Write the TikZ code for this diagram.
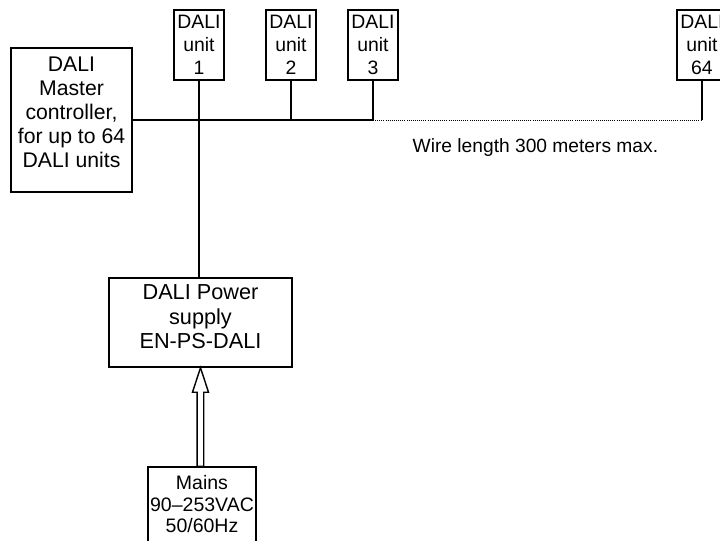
\documentclass[tikz,border=0pt]{standalone}
\usepackage{fontspec}
\setmainfont{Liberation Sans}
\usetikzlibrary{calc}

\begin{document}
\begin{tikzpicture}[
    x=0.5pt, y=-0.5pt,
    line width=0.7pt,
    box/.style={draw, rectangle, align=center, inner sep=1pt},
    unitbox/.style={box, minimum width=25pt, minimum height=35pt, font=\fontsize{9.7}{11.5}\selectfont},
    busext/.style={line width=0.5pt, dash pattern=on 0.5pt off 0.55pt}
]

    \useasboundingbox (0,0) rectangle (720,541);

    \node[box, minimum width=60.5pt, minimum height=72pt, text depth=7.5pt,
          font=\fontsize{10.6}{12}\selectfont] (Master) at (71.5,120)
          {DALI\\Master\\controller,\\for up to 64\\DALI units};

    \node[unitbox] (U1)  at (199,45) {DALI\\unit\\1};
    \node[unitbox] (U2)  at (291,45) {DALI\\unit\\2};
    \node[unitbox] (U3)  at (373,45) {DALI\\unit\\3};
    \node[unitbox] (U64) at (702,45) {DALI\\unit\\64};

    \node[box, minimum width=91.5pt, minimum height=44.5pt, text depth=5.5pt,
          font=\fontsize{10.85}{12.25}\selectfont] (PS) at (200.5,322.5)
          {DALI Power\\supply\\EN-PS-DALI};

    \node[box, minimum width=54pt, minimum height=37.5pt,
          font=\fontsize{9.75}{10.75}\selectfont] (Mains) at (202,504.5)
          {Mains\\90--253VAC\\50/60Hz};

    \node[anchor=base west, inner sep=0pt, font=\fontsize{9.6}{11}\selectfont] (WireLen)
          at (412,152) {Wire length 300 meters max.};

    % bus
    \draw (Master.east) -- (U3.south |- Master.east) coordinate (B3) -- (U3.south);
    \draw (U2.south) -- (U2.south |- Master.east);
    \draw (U1.south) -- (U1.south |- PS.north);
    \draw[busext] (B3) -- (U64.south |- B3) coordinate (B64);
    \draw (B64) -- (U64.south);

    % mains feed
    \draw (PS.south) -- ($(PS.south)+(-8,24.5)$) -- ($(PS.south)+(-3.3,24.5)$)
          -- ($(PS.south |- Mains.north)+(-3.3,0)$) -- ($(PS.south |- Mains.north)+(3.3,0)$)
          -- ($(PS.south)+(3.3,24.5)$) -- ($(PS.south)+(8,24.5)$) -- cycle;

\end{tikzpicture}
\end{document}
